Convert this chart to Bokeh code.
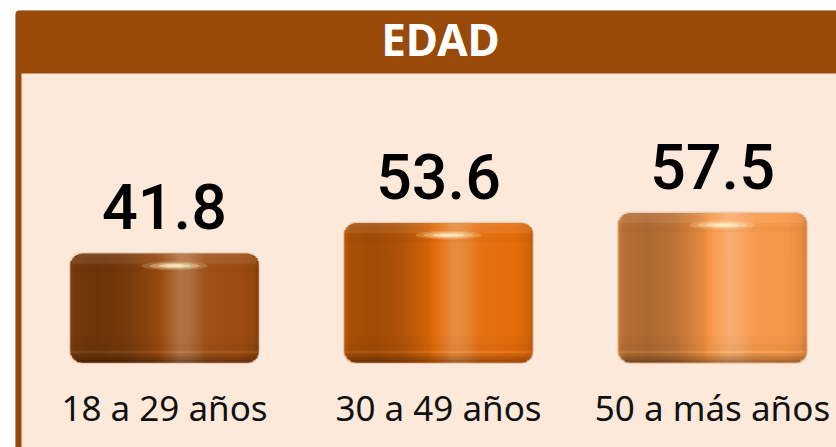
import numpy as np
from bokeh.plotting import figure
from bokeh.models import Range1d, BoxAnnotation, Label
from bokeh.core.properties import value
from bokeh.embed import file_html
from bokeh.resources import INLINE

# ---- data ----
categories = ["18 a 29 años", "30 a 49 años", "50 a más años"]
values = [41.8, 53.6, 57.5]
value_labels = ["41.8", "53.6", "57.5"]
title_text = "EDAD"

# ---- layout constants (pixels) ----
W, H = 836, 447
PX_X = 274.0      # px per category step
PX_Y = 2.6        # px per value unit
X0_PX = 164.0     # px column of first category centre
BASE_PX = 362.0   # px row of value 0
BAR_PX = 188.0    # bar width px
R_PX = 12.0       # corner radius px

x_start = -X0_PX / PX_X
x_end = (W - X0_PX) / PX_X
y_start = -(H - BASE_PX) / PX_Y
y_end = BASE_PX / PX_Y


def dx(px):
    return px / PX_X


def dy(px):
    return px / PX_Y


def xd(px):
    return x_start + px / PX_X


def yd(py):
    return y_end - py / PX_Y


p = figure(width=W, height=H, x_range=Range1d(x_start, x_end),
           y_range=Range1d(y_start, y_end), output_backend="svg",
           toolbar_location=None, min_border=0,
           x_axis_location=None, y_axis_location=None)
p.grid.visible = False
p.outline_line_color = None
p.background_fill_color = "white"
p.border_fill_color = "white"

brown = "#994A08"
peach = "#FDE9DA"
p.add_layout(BoxAnnotation(left=xd(15), right=xd(W + 6), top=yd(10), bottom=yd(H + 6),
                           fill_color=brown, fill_alpha=1, line_color="#B27040",
                           line_width=1, level="underlay", border_radius=4))
p.add_layout(BoxAnnotation(left=xd(21), right=xd(W + 6), top=yd(73), bottom=yd(H + 6),
                           fill_color=peach, fill_alpha=1, line_color=None,
                           level="underlay"))

p.add_layout(Label(x=xd(440), y=yd(38), text=title_text, text_align="center",
                   text_baseline="alphabetic", text_font="Noto Sans",
                   text_font_size="44px", text_font_style="bold", text_color="white"))

# ---- bars ----
base_colors = ["#9C4C10", "#E46C0A", "#F79646"]
idx = list(range(len(values)))
wd = dx(BAR_PX)


def hex2rgb(h):
    return np.array([int(h[i:i + 2], 16) for i in (1, 3, 5)], float)


def shade(rgb, f):
    c = rgb * f if f < 1 else rgb + (255 - rgb) * (f - 1)
    return "#%02x%02x%02x" % tuple(int(round(v)) for v in np.clip(c, 0, 255))


def inset(d):
    if d >= R_PX:
        return 0.0
    return R_PX - np.sqrt(max(R_PX ** 2 - (R_PX - d) ** 2, 0))


# halo
p.vbar(x=idx, top=[v + dy(1.5) for v in values], bottom=-dy(1.5), width=wd + dx(3),
       fill_color="#B89C88", fill_alpha=0.35, line_color=None, border_radius=13)
# main bars
p.vbar(x=idx, top=values, bottom=0, width=wd, fill_color=base_colors,
       line_color=None, border_radius=12)

t_pts = [0.0, 0.03, 0.15, 0.30, 0.45, 0.58, 0.63, 0.72, 0.90, 0.97, 1.0]
f_pts = [0.82, 0.74, 0.70, 0.76, 0.93, 1.22, 1.20, 1.04, 1.00, 0.95, 0.85]
N = 94
L, Rr, T, B, C = [], [], [], [], []
for i, v in enumerate(values):
    rgb = hex2rgb(base_colors[i])
    for k in range(N):
        t = (k + 0.5) / N
        f = float(np.interp(t, t_pts, f_pts))
        d = min(t, 1 - t) * BAR_PX
        ins = inset(d)
        left = i - wd / 2 + k * wd / N
        L.append(left)
        Rr.append(min(left + wd / N + dx(1.0), i + wd / 2))
        T.append(v - dy(ins))
        B.append(dy(ins))
        C.append(shade(rgb, f))
p.quad(left=L, right=Rr, top=T, bottom=B, fill_color=C, line_color=None)

# horizontal shading bands (a, b px from edge)
top_bands = [(0, 3, "white", 0.10), (3, 10, "white", 0.08), (14, 19, "black", 0.025)]
bot_bands = [(0, 3, "black", 0.30), (3, 6, "black", 0.20), (6, 9, "black", 0.10),
             (9, 12, "white", 0.05), (12, 18, "black", 0.05), (18, 26, "black", 0.025)]
for (bands, from_top) in ((top_bands, True), (bot_bands, False)):
    bl, br, bt, bb, bc, ba = [], [], [], [], [], []
    for i, v in enumerate(values):
        for a, b, col, al in bands:
            h = inset((a + b) / 2)
            bl.append(i - wd / 2 + dx(h))
            br.append(i + wd / 2 - dx(h))
            if from_top:
                bt.append(v - dy(a))
                bb.append(v - dy(b))
            else:
                bt.append(dy(b))
                bb.append(dy(a))
            bc.append(col)
            ba.append(al)
    p.quad(left=bl, right=br, top=bt, bottom=bb, fill_color=bc, fill_alpha=ba,
           line_color=None)

# specular highlight
for w_px, h_px, al in ((66, 9, 0.20), (50, 6, 0.35), (32, 4, 0.55), (18, 2.5, 0.6)):
    p.ellipse(x=[i + dx(10) for i in idx], y=[v - dy(12) for v in values],
              width=dx(w_px), height=dy(h_px), fill_color="#FFF2C8", fill_alpha=al,
              line_color=None)

# ---- texts ----
p.text(x=idx, y=values, text=value_labels, y_offset=-47, text_align="center",
       text_baseline="alphabetic", text_font=value("Roboto Medium, Noto Sans"),
       text_font_size="63px", text_color="black")
p.text(x=idx, y=[0] * len(idx), text=categories, y_offset=45, text_align="center",
       text_baseline="alphabetic", text_font=value("Noto Sans"),
       text_font_size="35px", text_color="#111111")

open("out.html", "w").write(file_html(p, INLINE))
